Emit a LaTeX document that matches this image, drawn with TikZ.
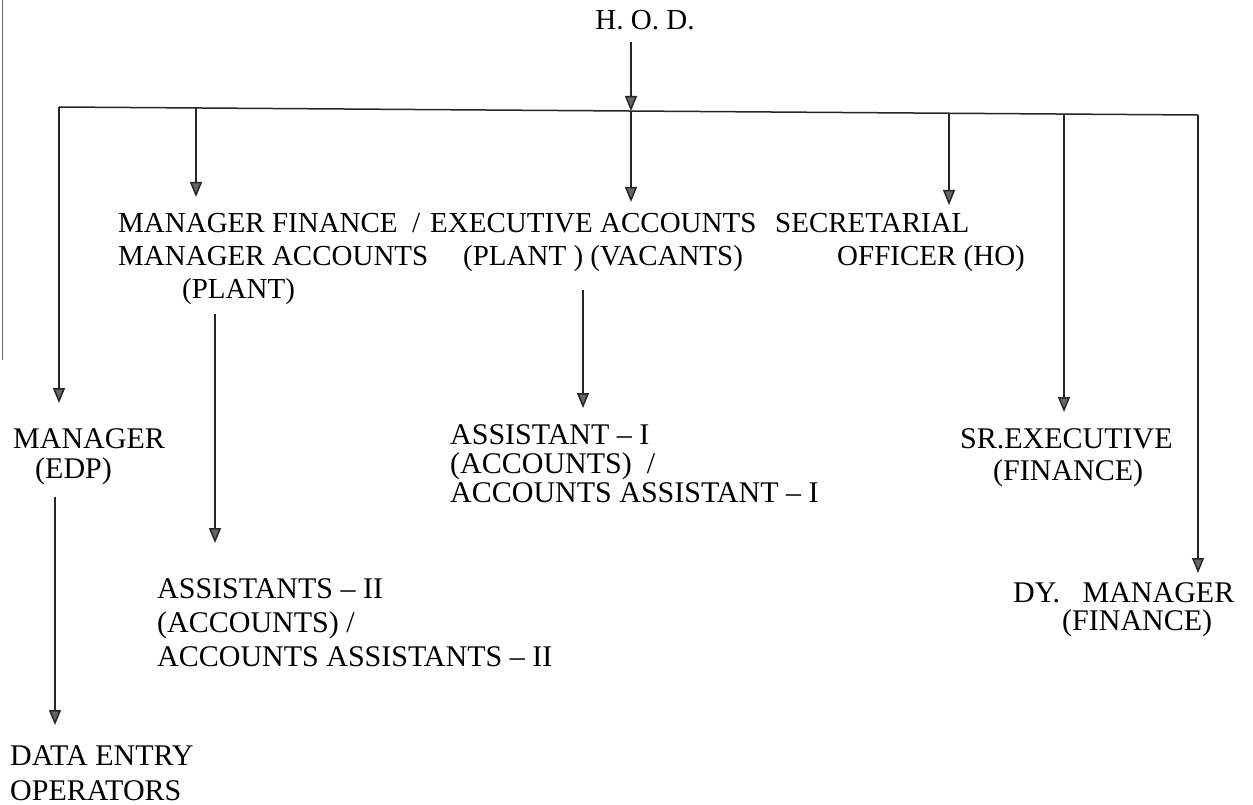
\documentclass[tikz,border=0pt]{standalone}
\usepackage{fontspec}
\setmainfont{Liberation Serif}
\usetikzlibrary{arrows.meta}
\begin{document}
\begin{tikzpicture}[x=1pt,y=-1pt,
  lbl/.style={inner sep=0pt, font=\fontsize{29}{33}\selectfont, align=left, anchor=north west},
  lowlbl/.style={lbl, font=\fontsize{30}{33}\selectfont},
  conn/.style={line width=1.5pt, draw=black!85},
  arr/.style={conn, -{Triangle[width=12pt,length=15pt,fill=black!60]}}]
\useasboundingbox[fill=white] (0,0) rectangle (1253,805);
% left edge line
\draw[line width=1pt, black!60] (2.5,0) -- (2.5,360);
% labels
\node[lbl, anchor=north] (hod) at (645,10) {H. O. D.};
\node[lbl] (mf) at (118,213) {MANAGER FINANCE~~/\\MANAGER ACCOUNTS\\\hspace*{64pt}(PLANT)};
\node[lbl] (ea) at (430,213) {EXECUTIVE ACCOUNTS\\\hspace*{33pt}(PLANT ) (VACANTS)};
\node[lbl] (so) at (775,213) {SECRETARIAL\\\hspace*{62pt}OFFICER (HO)};
\node[lowlbl, font=\fontsize{30}{30}\selectfont] (edp) at (13,428) {MANAGER\\\hspace*{22pt}(EDP)};
\node[lowlbl, font=\fontsize{30}{35}\selectfont] (deo) at (10,745) {DATA ENTRY\\OPERATORS};
\node[lowlbl, font=\fontsize{30}{34}\selectfont] (a2) at (157,578) {ASSISTANTS – II\\(ACCOUNTS) /\\ACCOUNTS ASSISTANTS – II};
\node[lowlbl, font=\fontsize{30}{29}\selectfont] (a1) at (450,424) {ASSISTANT – I\\(ACCOUNTS)~~/\\ACCOUNTS ASSISTANT – I};
\node[lowlbl, font=\fontsize{30}{32}\selectfont] (sre) at (960,428) {SR.EXECUTIVE\\\hspace*{33pt}(FINANCE)};
\node[lowlbl, font=\fontsize{30}{28}\selectfont] (dym) at (1013,582) {DY.~~~MANAGER\\\hspace*{49pt}(FINANCE)};
% trunk
\coordinate (tL) at (59,107);
\coordinate (t1) at (196,108);
\coordinate (tH) at (631,111);
\coordinate (t3) at (949,113);
\coordinate (t4) at (1064,114);
\coordinate (tR) at (1198,115);
\coordinate (m1) at (215,0);
\coordinate (m2) at (583,0);
\coordinate (m3) at (55,0);
\draw[conn] (tL) -- (tR);
\draw[arr] ([yshift=-12pt]hod.south -| tH) -- (tH);
\draw[arr] (tL) -- ([yshift=25pt]tL |- edp.north);
\draw[arr] (t1) -- ([yshift=16pt]t1 |- mf.north);
\draw[arr] (tH) -- ([yshift=11pt]tH |- ea.north);
\draw[arr] (t3) -- ([yshift=8pt]t3 |- so.north);
\draw[arr] (t4) -- ([yshift=16pt]t4 |- sre.north);
\draw[arr] (tR) -- ([yshift=9pt]tR |- dym.north);
\draw[arr] ([yshift=-9pt]mf.south -| m1) -- ([yshift=35pt]m1 |- a2.north);
\draw[arr] ([yshift=-18pt]ea.south -| m2) -- ([yshift=16pt]m2 |- a1.north);
\draw[arr] ([yshift=-12pt]edp.south -| m3) -- ([yshift=20pt]m3 |- deo.north);
\end{tikzpicture}
\end{document}
